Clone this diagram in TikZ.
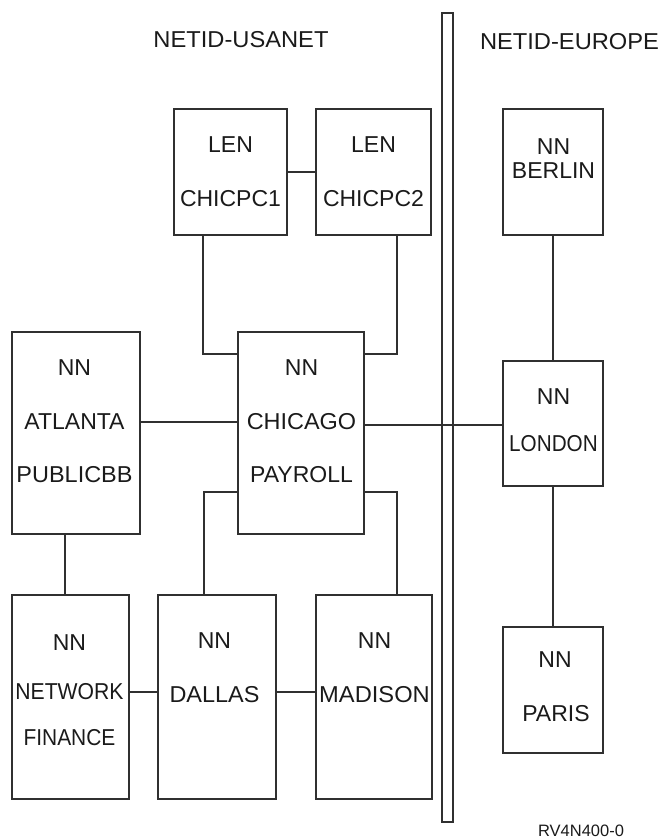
\documentclass[tikz,border=0pt]{standalone}
\usepackage{fontspec}
\usepackage{graphicx}
\setmainfont{Liberation Sans}
\definecolor{linecol}{HTML}{303030}
\definecolor{textcol}{HTML}{1A1A1A}
\begin{document}
\begin{tikzpicture}[x=1pt,y=-1pt,
  nbox/.style={draw=linecol, line width=1.8pt, rectangle, inner sep=0pt, outer sep=0pt},
  barbox/.style={draw=linecol, line width=1.5pt, rectangle, inner sep=0pt, outer sep=0pt, minimum width=11pt, minimum height=809pt},
  lbl/.style={text=textcol, inner sep=0pt, font=\fontsize{23pt}{26pt}\selectfont},
  small/.style={text=textcol, inner sep=0pt, font=\fontsize{16.5pt}{18pt}\selectfont},
  conn/.style={draw=linecol, line width=1.8pt}]
\useasboundingbox (0,0) rectangle (662,840);

% boxes
\node[nbox, minimum width=113pt, minimum height=126pt] (c1) at (230.5,172) {};
\node[nbox, minimum width=115pt, minimum height=126pt] (c2) at (373.5,172) {};
\node[nbox, minimum width=100pt, minimum height=126pt] (berlin) at (553,172) {};
\node[nbox, minimum width=128pt, minimum height=202pt] (atlanta) at (76,433) {};
\node[nbox, minimum width=126pt, minimum height=202pt] (chicago) at (301,433) {};
\node[nbox, minimum width=100pt, minimum height=125pt] (london) at (553,423.5) {};
\node[nbox, minimum width=117pt, minimum height=204pt] (finance) at (70.5,697) {};
\node[nbox, minimum width=118pt, minimum height=204pt] (dallas) at (217,697) {};
\node[nbox, minimum width=116pt, minimum height=204pt] (madison) at (374,697) {};
\node[nbox, minimum width=100pt, minimum height=126pt] (paris) at (553,690) {};
\node[barbox] (bar) at (447.5,417.5) {};

% helper coordinates
\coordinate (p1) at (203,354);
\coordinate (p2) at (397,354);
\coordinate (p3) at (204,492);
\coordinate (p4) at (397,492);
\coordinate (p5) at (0,422);
\coordinate (p6) at (0,425);
\coordinate (p7) at (65,0);
\coordinate (p8) at (0,692);

% connectors
\draw[conn] (c1.east) -- (c2.west);
\draw[conn] (c1.south -| p1) |- (chicago.west |- p1);
\draw[conn] (c2.south -| p2) |- (chicago.east |- p2);
\draw[conn] (chicago.west |- p3) -| (dallas.north -| p3);
\draw[conn] (chicago.east |- p4) -| (madison.north -| p4);
\draw[conn] (atlanta.east |- p5) -- (chicago.west |- p5);
\draw[conn] (chicago.east |- p6) -- (london.west |- p6);
\draw[conn] (atlanta.south -| p7) -- (finance.north -| p7);
\draw[conn] (finance.east |- p8) -- (dallas.west |- p8);
\draw[conn] (dallas.east |- p8) -- (madison.west |- p8);
\draw[conn] (berlin.south) -- (london.north);
\draw[conn] (london.south) -- (paris.north);

% titles
\node[lbl] (tusa) at (241,39.5) {\scalebox{1.03}[1]{NETID-USANET}};
\node[lbl] (teur) at (569.5,41.5) {\scalebox{1.03}[1]{NETID-EUROPE}};

% texts
\node[lbl] (c1a) at (230.5,145) {LEN};
\node[lbl] (c1b) at (230.5,198.5) {CHICPC1};
\node[lbl] (c2a) at (373.5,145) {LEN};
\node[lbl] (c2b) at (373.5,198.5) {CHICPC2};
\node[lbl] (bea) at (553.5,147) {NN};
\node[lbl] (beb) at (553.5,171) {BERLIN};
\node[lbl] (ata) at (74.5,368) {NN};
\node[lbl] (atb) at (74.5,422) {ATLANTA};
\node[lbl] (atc) at (74.5,475) {\scalebox{1.02}[1]{PUBLICBB}};
\node[lbl] (cha) at (301.5,368) {NN};
\node[lbl] (chb) at (301.5,422) {\scalebox{1.02}[1]{CHICAGO}};
\node[lbl] (chc) at (301.5,475) {PAYROLL};
\node[lbl] (loa) at (553.5,397) {NN};
\node[lbl] (lob) at (553.5,443.5) {\scalebox{0.9}[1]{LONDON}};
\node[lbl] (paa) at (555,660) {NN};
\node[lbl] (pab) at (556,713.5) {PARIS};
\node[lbl] (fia) at (69.5,643) {NN};
\node[lbl] (fib) at (69.5,691.5) {\scalebox{0.92}[1]{NETWORK}};
\node[lbl] (fic) at (69.5,738) {\scalebox{0.91}[1]{FINANCE}};
\node[lbl] (daa) at (214.5,641) {NN};
\node[lbl] (dab) at (214.5,695) {\scalebox{1.02}[1]{DALLAS}};
\node[lbl] (maa) at (374.5,641) {NN};
\node[lbl] (mab) at (374.5,695) {\scalebox{1.03}[1]{MADISON}};
\node[small] (fig) at (581,831) {RV4N400-0};
\end{tikzpicture}
\end{document}
